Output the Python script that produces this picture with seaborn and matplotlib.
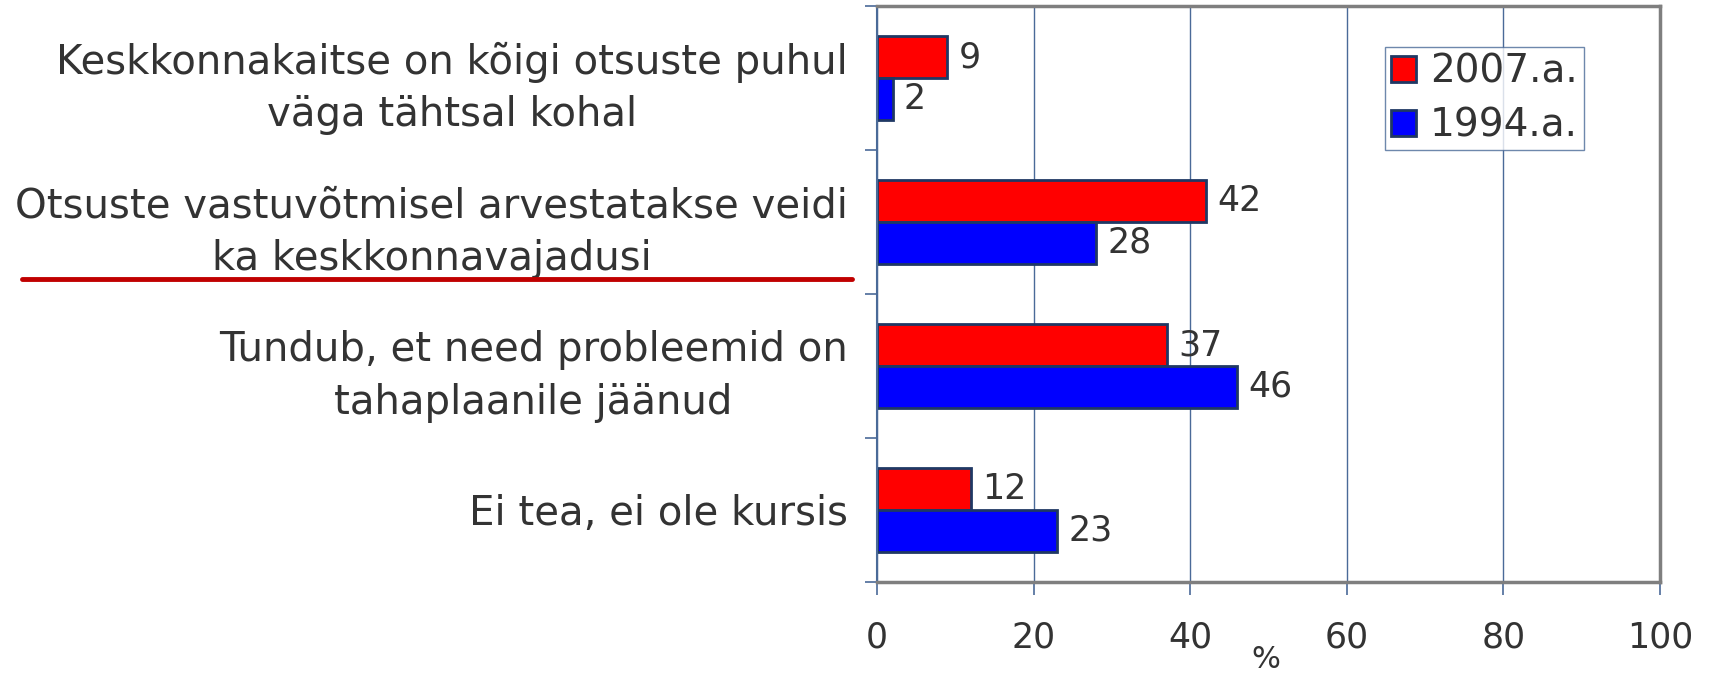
import matplotlib
matplotlib.use("Agg")
import matplotlib.pyplot as plt
import seaborn as sns
import pandas as pd
from matplotlib.lines import Line2D
from matplotlib.patches import Patch

# Data
categories = [
    "Keskkonnakaitse on kõigi otsuste puhul\nväga tähtsal kohal",
    "Otsuste vastuvõtmisel arvestatakse veidi\nka keskkonnavajadusi",
    "Tundub, et need probleemid on\ntahaplaanile jäänud",
    "Ei tea, ei ole kursis",
]
years = ["2007.a.", "1994.a."]
values_2007 = [9, 42, 37, 12]
values_1994 = [2, 28, 46, 23]
x_ticks = [0, 20, 40, 60, 80, 100]

df = pd.DataFrame({
    "category": categories * 2,
    "value": values_2007 + values_1994,
    "year": [years[0]] * 4 + [years[1]] * 4,
})

sns.set_style("white")
plt.rcParams["font.family"] = ["DejaVu Sans"]
text_color = "#333333"
grid_color = "#4A6A98"
edge_color = "#1F3864"
colors = ["#FF0000", "#0000FF"]

fig = plt.figure(figsize=(17.11, 6.77), dpi=100)
ax = fig.add_axes([877 / 1711, 1 - 582 / 677, 783 / 1711, 576 / 677])

sns.barplot(data=df, y="category", x="value", hue="year", hue_order=years,
            palette=colors, saturation=1, orient="h", width=0.58,
            edgecolor=edge_color, linewidth=2, ax=ax, legend=False, errorbar=None)

# value labels
for cont in ax.containers:
    ax.bar_label(cont, padding=8, fontsize=25, color=text_color)

ax.set_xlim(0, 100)
ax.set_ylim(3.5, -0.5)
ax.set_xticks(x_ticks)
ax.set_xticklabels([str(t) for t in x_ticks], fontsize=25, color=text_color)
ax.set_yticks(range(len(categories)))
ax.set_yticklabels(categories, fontsize=29, color=text_color,
                   multialignment="center", linespacing=1.4)
ax.set_yticks([-0.5, 0.5, 1.5, 2.5, 3.5], minor=True)
ax.tick_params(axis="y", which="major", left=True, length=0, pad=21)
ax.tick_params(axis="y", which="minor", left=True, length=9, width=1.2,
               color=grid_color, direction="out")
ax.tick_params(axis="x", bottom=True, length=9.5, width=1.2, color=grid_color,
               direction="out", pad=18)
ax.set_xlabel("")
ax.set_ylabel("")
ax.text(0.497, -0.135, "%", transform=ax.transAxes, ha="center", va="center",
        fontsize=22, color=text_color)

ax.xaxis.grid(True, color=grid_color, linewidth=1)
ax.set_axisbelow(True)
for side in ["top", "right", "bottom"]:
    ax.spines[side].set_color("#7F7F7F")
    ax.spines[side].set_linewidth(2.5)
ax.spines["left"].set_color(grid_color)
ax.spines["left"].set_linewidth(1.5)

# legend
handles = [Patch(facecolor=c, edgecolor=edge_color, linewidth=2) for c in colors]
leg = ax.legend(handles, years, loc="upper left", bbox_to_anchor=(0.649, 0.929),
                fontsize=28, frameon=True, fancybox=False, handlelength=0.65,
                handleheight=0.65, handletextpad=0.35, borderpad=0.15,
                labelspacing=0.4, borderaxespad=0)
leg.get_frame().set_edgecolor(grid_color)
leg.get_frame().set_linewidth(1)
for t in leg.get_texts():
    t.set_color(text_color)

# red underline decoration under second label
fig.add_artist(Line2D([22 / 1711, 852 / 1711], [1 - 279 / 677, 1 - 279 / 677],
                      color="#C00000", linewidth=3.5))

fig.savefig("out.png", dpi=100, facecolor="white")
